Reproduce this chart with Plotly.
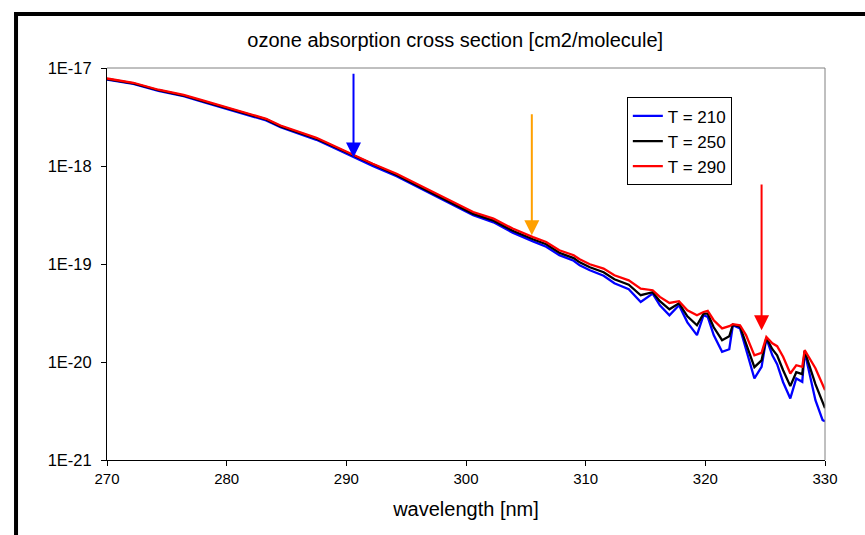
import math
import plotly.graph_objects as go

# wavelength grid [nm]
wavelength = [270.0, 272.2, 274.3, 276.4, 278.0, 279.7, 281.4, 283.3, 284.5, 286.1,
              287.5, 288.9, 290.7, 292.2, 294.2, 296.4, 297.8, 299.2, 300.6, 302.3,
              303.9, 305.6, 306.7, 307.8, 309.0, 309.5, 310.35, 311.5, 312.4, 313.6,
              314.6, 315.6, 316.2, 317.0, 317.8, 318.5, 319.3, 319.85, 320.2, 320.7,
              321.4, 322.0, 322.3, 322.9, 323.4, 324.1, 324.7, 325.1, 325.6, 326.0,
              326.5, 327.1, 327.6, 328.1, 328.3, 329.2, 329.8, 330.0]

# cross sections [cm2/molecule]
sigma_210 = [7.63e-18, 6.90e-18, 5.83e-18, 5.15e-18, 4.50e-18, 3.93e-18, 3.41e-18, 2.92e-18, 2.49e-18, 2.12e-18,
             1.85e-18, 1.55e-18, 1.22e-18, 1.00e-18, 7.87e-19, 5.71e-19, 4.67e-19, 3.83e-19, 3.14e-19, 2.66e-19,
             2.09e-19, 1.70e-19, 1.50e-19, 1.23e-19, 1.08e-19, 9.70e-20, 8.63e-20, 7.58e-20, 6.36e-20, 5.52e-20,
             4.10e-20, 4.99e-20, 3.79e-20, 3.00e-20, 3.79e-20, 2.54e-20, 1.88e-20, 3.00e-20, 2.88e-20, 1.88e-20,
             1.27e-20, 1.35e-20, 2.37e-20, 2.20e-20, 1.32e-20, 6.79e-21, 8.91e-21, 1.74e-20, 1.17e-20, 9.50e-21,
             6.22e-21, 4.25e-21, 6.79e-21, 6.27e-21, 1.27e-20, 4.08e-21, 2.55e-21, 2.49e-21]

sigma_250 = [7.73e-18, 6.98e-18, 5.93e-18, 5.24e-18, 4.59e-18, 4.00e-18, 3.48e-18, 2.99e-18, 2.54e-18, 2.18e-18,
             1.90e-18, 1.59e-18, 1.26e-18, 1.03e-18, 8.11e-19, 5.91e-19, 4.84e-19, 3.97e-19, 3.25e-19, 2.77e-19,
             2.18e-19, 1.79e-19, 1.59e-19, 1.30e-19, 1.15e-19, 1.04e-19, 9.26e-20, 8.23e-20, 6.98e-20, 6.14e-20,
             4.80e-20, 5.15e-20, 4.17e-20, 3.45e-20, 3.98e-20, 2.93e-20, 2.37e-20, 3.11e-20, 3.11e-20, 2.26e-20,
             1.67e-20, 1.83e-20, 2.40e-20, 2.29e-20, 1.55e-20, 8.85e-21, 1.04e-20, 1.77e-20, 1.35e-20, 1.17e-20,
             8.25e-21, 5.67e-21, 7.87e-21, 7.51e-21, 1.29e-20, 5.94e-21, 3.89e-21, 3.38e-21]

sigma_290 = [7.82e-18, 7.07e-18, 6.00e-18, 5.33e-18, 4.67e-18, 4.08e-18, 3.54e-18, 3.03e-18, 2.59e-18, 2.22e-18,
             1.94e-18, 1.62e-18, 1.28e-18, 1.055e-18, 8.34e-19, 6.10e-19, 5.02e-19, 4.13e-19, 3.39e-19, 2.90e-19,
             2.30e-19, 1.88e-19, 1.68e-19, 1.38e-19, 1.23e-19, 1.12e-19, 9.93e-20, 8.97e-20, 7.67e-20, 6.82e-20,
             5.61e-20, 5.40e-20, 4.61e-20, 4.00e-20, 4.17e-20, 3.37e-20, 3.00e-20, 3.24e-20, 3.32e-20, 2.67e-20,
             2.20e-20, 2.32e-20, 2.43e-20, 2.37e-20, 1.88e-20, 1.17e-20, 1.24e-20, 1.80e-20, 1.55e-20, 1.45e-20,
             1.13e-20, 7.64e-21, 9.27e-21, 8.91e-21, 1.32e-20, 8.65e-21, 6.04e-21, 5.16e-21]

series_names = ["T = 210", "T = 250", "T = 290"]
series_colors = ["#0000FF", "#000000", "#FF0000"]

# arrows: wavelength, tip value, tail value, colour
arrow_wl = [290.6, 305.5, 324.7]
arrow_tip = [1.22e-18, 1.96e-19, 2.11e-20]
arrow_tail = [9.06e-18, 3.49e-18, 6.70e-19]
arrow_colors = ["#0000FF", "#FFA000", "#FF0000"]

y_tickvals = [1e-21, 1e-20, 1e-19, 1e-18, 1e-17]
y_ticktext = ["1E-21", "1E-20", "1E-19", "1E-18", "1E-17"]

FONT = "Liberation Sans, Arial, sans-serif"

fig = go.Figure()
for name, col, ys in zip(series_names, series_colors, [sigma_210, sigma_250, sigma_290]):
    fig.add_trace(go.Scatter(x=wavelength, y=ys, mode="lines", name=name,
                             line=dict(color=col, width=2.3)))

annotations = []
for wl, tip, tail, col in zip(arrow_wl, arrow_tip, arrow_tail, arrow_colors):
    annotations.append(dict(x=wl, y=math.log10(tip), ax=wl, ay=math.log10(tail),
                            xref="x", yref="y", axref="x", ayref="y",
                            text="", showarrow=True, arrowhead=2, arrowsize=1.5,
                            arrowwidth=2, arrowcolor=col, standoff=0))

shapes = [
    # grey top/right border of plot area
    dict(type="line", xref="paper", yref="paper", x0=0, x1=1, y0=1, y1=1,
         line=dict(color="#808080", width=1)),
    dict(type="line", xref="paper", yref="paper", x0=1, x1=1, y0=0, y1=1,
         line=dict(color="#808080", width=1)),
    # outer black frame (left & top)
    dict(type="line", xref="paper", yref="paper", x0=-0.1267, x1=-0.1267, y0=-0.25, y1=1.141,
         line=dict(color="#000000", width=4)),
    dict(type="line", xref="paper", yref="paper", x0=-0.1295, x1=1.1, y0=1.138, y1=1.138,
         line=dict(color="#000000", width=4)),
]

fig.update_layout(
    width=865, height=535,
    margin=dict(l=107, r=40, t=68, b=75),
    paper_bgcolor="white", plot_bgcolor="white",
    font=dict(family=FONT, color="black", size=15),
    title=dict(text="ozone absorption cross section [cm2/molecule]",
               font=dict(size=20, family=FONT, color="black"),
               xref="paper", x=0.485, xanchor="center",
               yref="container", y=1 - 40 / 535, yanchor="middle"),
    xaxis=dict(range=[270, 330], dtick=10, tick0=270, showgrid=False, zeroline=False,
               showline=True, linecolor="black", linewidth=1,
               ticks="outside", ticklen=5, tickcolor="black",
               tickfont=dict(size=15),
               title=dict(text="wavelength [nm]", font=dict(size=20), standoff=15)),
    yaxis=dict(type="log", range=[-21, -17], showgrid=False, zeroline=False,
               showline=True, linecolor="black", linewidth=1,
               ticks="outside", ticklen=5, tickcolor="black",
               tickvals=y_tickvals, ticktext=y_ticktext,
               tickfont=dict(size=16.5), ticklabelstandoff=6),
    legend=dict(x=0.724, y=0.925, xanchor="left", yanchor="top",
                bordercolor="black", borderwidth=1, bgcolor="white",
                font=dict(size=17), itemwidth=30, tracegroupgap=0),
    showlegend=True,
    annotations=annotations,
    shapes=shapes,
)

fig.write_html("out.html")
